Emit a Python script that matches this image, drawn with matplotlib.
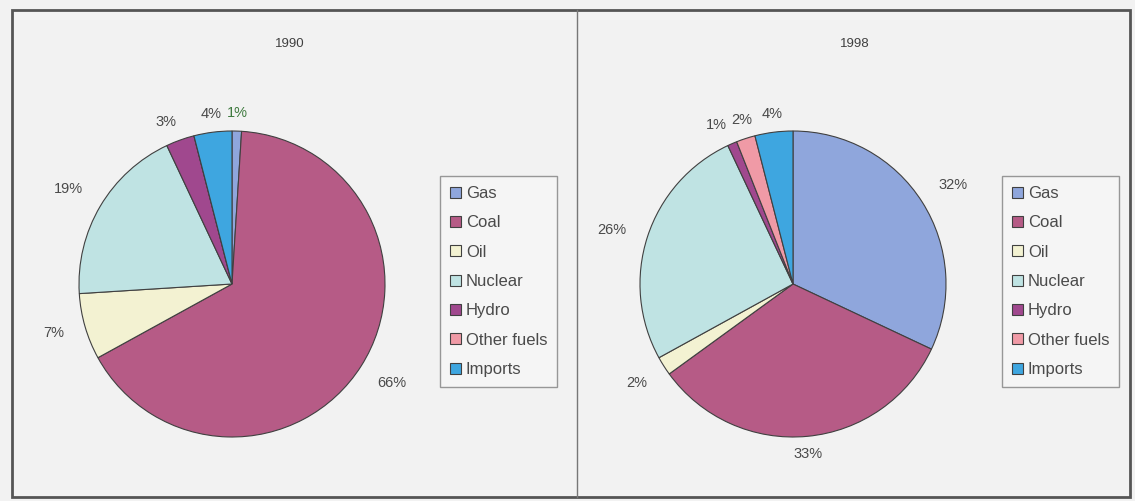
import matplotlib
matplotlib.use("Agg")
import matplotlib.pyplot as plt
import numpy as np
from matplotlib.patches import Rectangle
from matplotlib.lines import Line2D

plt.rcParams["font.family"] = ["Liberation Sans", "DejaVu Sans"]

categories = ["Gas", "Coal", "Oil", "Nuclear", "Hydro", "Other fuels", "Imports"]
values_1990 = [1, 66, 7, 19, 3, 0, 4]
values_1998 = [32, 33, 2, 26, 1, 2, 4]
titles = ["1990", "1998"]

colors = ["#8fa6dc", "#b65b86", "#f3f2d2", "#bfe3e3", "#a0488e", "#f09aa6", "#3ea6e0"]
label_colors_1990 = ["#3f7a3f", "#4a4a4a", "#4a4a4a", "#4a4a4a", "#4a4a4a", "#4a4a4a", "#4a4a4a"]

W, H = 1135, 501
fig = plt.figure(figsize=(W / 100, H / 100), dpi=100)
fig.patch.set_facecolor("#f2f2f2")

# frame
fig.add_artist(Rectangle((12 / W, 4 / H), (1130 - 12) / W, (491 - 4) / H, transform=fig.transFigure,
                         fill=False, edgecolor="#555555", linewidth=2.0))
fig.add_artist(Line2D([577 / W, 577 / W], [4 / H, 491 / H], transform=fig.transFigure,
                      color="#777777", linewidth=1.0))

def draw(values, cx, cy, r, title, title_xy, legend_box, label_colors=None):
    ax = fig.add_axes([(cx - r) / W, (H - cy - r) / H, 2 * r / W, 2 * r / H])
    wedges, _ = ax.pie(values, colors=colors, startangle=90, counterclock=False,
                       wedgeprops=dict(edgecolor="#404040", linewidth=0.8))
    ax.set_xlim(-1, 1)
    ax.set_ylim(-1, 1)
    ax.set_aspect("equal")
    ax.axis("off")
    for i, (w, v) in enumerate(zip(wedges, values)):
        if v == 0:
            continue
        mid = np.deg2rad((w.theta1 + w.theta2) / 2)
        c, s = np.cos(mid), np.sin(mid)
        d = 1.07 + 0.08 * c * c
        ha = "right" if c < -0.33 else ("left" if c > 0.33 else "center")
        va = "bottom" if s > 0.33 else ("top" if s < -0.33 else "center")
        col = label_colors[i] if label_colors else "#4a4a4a"
        ax.text(d * c, d * s, f"{v}%", ha=ha, va=va,
                fontsize=10.5, color=col, clip_on=False)
    fig.text(title_xy[0] / W, 1 - title_xy[1] / H, title, ha="center", va="center",
             fontsize=9.5, color="#404040")
    x0, y0, x1, y1 = legend_box
    leg = fig.legend(wedges, categories, loc="upper left",
                     bbox_to_anchor=(x0 / W, 1 - y0 / H), bbox_transform=fig.transFigure,
                     frameon=True, fancybox=False, fontsize=12, handlelength=0.65,
                     handleheight=0.65, handletextpad=0.3, labelspacing=0.86,
                     borderpad=0.6, borderaxespad=0.0)
    leg.get_frame().set_edgecolor("#808080")
    leg.get_frame().set_facecolor("#f7f7f7")
    leg.get_frame().set_linewidth(1.0)
    for t in leg.get_texts():
        t.set_color("#4a4a4a")
    return ax

draw(values_1990, 232, 284, 153, titles[0], (290, 44), (440, 176, 556, 388), label_colors_1990)
draw(values_1998, 793, 284, 153, titles[1], (855, 44), (1002, 176, 1124, 388))

fig.savefig("out.png", dpi=100, facecolor=fig.get_facecolor())
